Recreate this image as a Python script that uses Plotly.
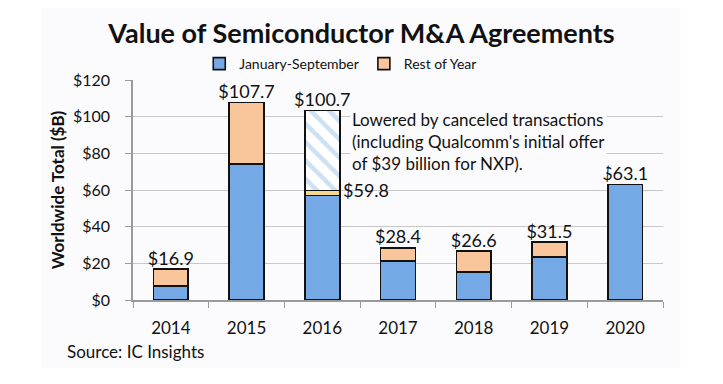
import plotly.graph_objects as go

years = ["2014", "2015", "2016", "2017", "2018", "2019", "2020"]
jan_sep = [7.6, 74.2, 56.9, 21.4, 15.4, 23.3, 63.1]
rest_of_year = [9.3, 33.5, 2.9, 7.0, 11.2, 8.2, 0.0]
canceled = [0, 0, 43.5, 0, 0, 0, 0]
total_labels = ["$16.9", "$107.7", "$100.7", "$28.4", "$26.6", "$31.5", "$63.1"]
label_values = [16.9, 107.7, 103.3, 28.4, 26.6, 31.5, 63.1]
y_ticks = [0, 20, 40, 60, 80, 100, 120]
y_tick_text = ["$0", "$20", "$40", "$60", "$80", "$100", "$120"]

FONT = "Lato"
blue = "#74a9e6"
peach = "#f9c59b"
rest_colors = [peach, peach, "#f5d98c", peach, peach, peach, peach]

fig = go.Figure()
fig.add_trace(go.Bar(
    x=years, y=jan_sep, name="January-September",
    marker=dict(color=blue, line=dict(color="#111111", width=1.6)),
))
fig.add_trace(go.Bar(
    x=years, y=rest_of_year, name="Rest of Year",
    marker=dict(color=rest_colors, line=dict(color="#111111", width=1.6)),
))
fig.add_trace(go.Bar(
    x=years, y=canceled, name="Canceled", showlegend=False,
    marker=dict(color="white", line=dict(color="#111111", width=1.6),
                pattern=dict(shape="\\", fgcolor="#9cc1ea", bgcolor="white",
                             size=13, solidity=0.35)),
))

# total labels
fig.add_trace(go.Scatter(
    x=years, y=label_values,
    mode="text", text=total_labels, textposition="top center",
    textfont=dict(family=FONT, size=18, color="#111111"),
    showlegend=False, hoverinfo="skip", cliponaxis=False,
))

i16 = years.index("2016")
fig.add_annotation(
    x=i16, y=jan_sep[i16] + rest_of_year[i16], xref="x", yref="y",
    text="$59.8", showarrow=False, xanchor="left", yanchor="middle",
    xshift=19, font=dict(family=FONT, size=18, color="#111111"),
)
fig.add_annotation(
    x=0.41, y=105.5, xref="paper", yref="y",
    text="Lowered by canceled transactions<br>(including Qualcomm's initial offer<br>of $39 billion for NXP).",
    showarrow=False, xanchor="left", yanchor="top", align="left",
    bgcolor="#fbfbfd",
    font=dict(family=FONT, size=17, color="#111111"),
)
fig.add_annotation(
    x=-0.128, y=-0.236, xref="paper", yref="paper", text="Source: IC Insights",
    showarrow=False, xanchor="left", yanchor="middle",
    font=dict(family=FONT, size=17, color="#111111"),
)

fig.add_shape(type="rect", xref="paper", yref="paper",
              x0=-0.172, x1=1.034, y0=-0.309, y1=1.327,
              line=dict(width=0), fillcolor="#fbfbfd", layer="below")

fig.update_layout(
    width=723, height=384,
    margin=dict(l=133, r=60, t=80, b=84),
    paper_bgcolor="white", plot_bgcolor="rgba(0,0,0,0)",
    barmode="stack", bargap=0.54,
    font=dict(family=FONT, color="#111111"),
    title=dict(text="<b>Value of Semiconductor M&A Agreements</b>",
               x=0.5, xanchor="center", y=0.912, yanchor="middle",
               font=dict(family=FONT, size=27, color="#111111")),
    legend=dict(orientation="h", x=0.392, xanchor="center", y=1.0,
                yanchor="bottom", font=dict(family=FONT, size=14),
                bgcolor="rgba(0,0,0,0)", itemwidth=30, traceorder="normal"),
    xaxis=dict(type="category", range=[-0.5, len(years) - 0.5],
               automargin=False,
               showline=True, linecolor="#9a9a9a", linewidth=1.5,
               ticks="outside", tickson="boundaries", ticklen=6,
               tickcolor="#9a9a9a", tickfont=dict(family=FONT, size=17),
               ticklabelstandoff=12, showgrid=False),
    yaxis=dict(range=[0, 120], tickvals=y_ticks, ticktext=y_tick_text,
               automargin=False,
               showline=True, linecolor="#9a9a9a", linewidth=1.5,
               ticks="outside", ticklen=6, tickcolor="#9a9a9a",
               gridcolor="#c8c8c8", gridwidth=1,
               tickfont=dict(family=FONT, size=16), ticklabelstandoff=12,
               title=dict(text="<b>Worldwide Total ($B)</b>",
                          font=dict(family=FONT, size=17), standoff=4),
               zeroline=False),
)

fig.write_html("out.html", config={"displayModeBar": False},
               post_script="document.body.style.margin='0';")
